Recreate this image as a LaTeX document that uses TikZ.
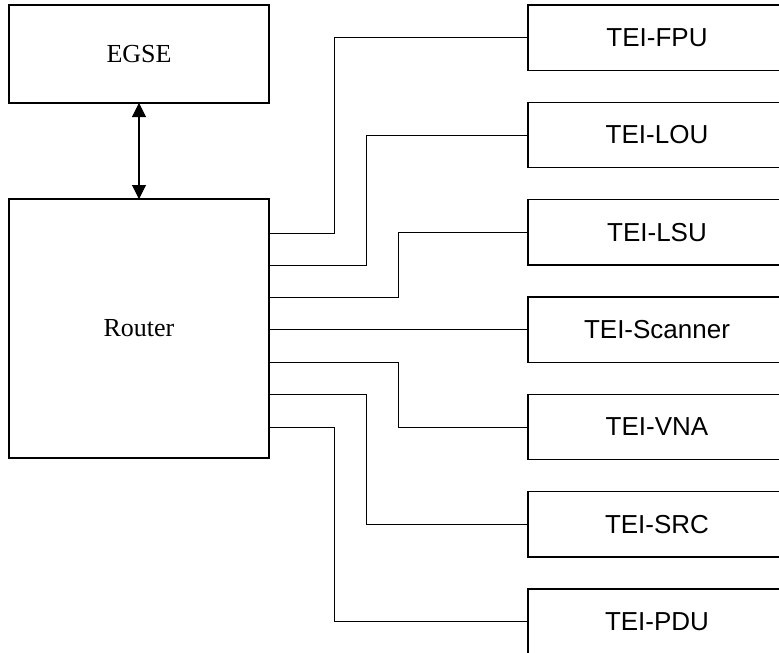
\documentclass[tikz,border=0pt]{standalone}
\usepackage{fontspec}
\setmainfont{Liberation Serif}
\setsansfont{Liberation Sans}
\usepackage{tikz}
\usetikzlibrary{arrows.meta, positioning}

\begin{document}
\begin{tikzpicture}[
    node distance=24pt,
    blk/.style={rectangle, draw=black, line width=0.8pt, outer sep=0pt,
                minimum width=195pt, align=center, font=\fontsize{19.5}{23}\selectfont},
    tei/.style={rectangle, draw=black, line width=0.8pt, outer sep=0pt,
                minimum width=193.5pt, minimum height=49pt, align=center,
                font=\sffamily\fontsize{19.5}{23}\selectfont},
    link/.style={black, line width=0.75pt},
    arr/.style={{Triangle[length=10.5pt, width=10.5pt]}-{Triangle[length=10.5pt, width=10.5pt]},
                black, line width=0.8pt}
  ]
  \useasboundingbox (0,0) rectangle (584.25pt,-489.75pt);

  \node[blk, minimum height=73.5pt, anchor=north west] (egse) at (6.75pt,-3.75pt) {EGSE};
  \node[blk, minimum height=194.25pt, below=72pt of egse] (router) {Router};
  \draw[arr] (egse) -- (router);

  % test units
  \node[tei, anchor=north west] (fpu) at (396pt,-3.75pt) {TEI-FPU};
  \node[tei, below=of fpu] (lou) {TEI-LOU};
  \node[tei, below=of lou] (lsu) {TEI-LSU};
  \node[tei, below=of lsu] (scan) {TEI-Scanner};
  \node[tei, below=of scan] (vna) {TEI-VNA};
  \node[tei, below=of vna] (src) {TEI-SRC};
  \node[tei, below=of src] (pdu) {TEI-PDU};

  % router links
  \draw[link] ([yshift=-25.5pt]router.north east) -- ++(48.75pt,0) |- (fpu.west);
  \draw[link] ([yshift=-49.75pt]router.north east) -- ++(72.75pt,0) |- (lou.west);
  \draw[link] ([yshift=-74pt]router.north east) -- ++(96.75pt,0) |- (lsu.west);
  \draw[link] (scan.west -| router.east) -- (scan.west);
  \draw[link] ([yshift=-122.5pt]router.north east) -- ++(96.75pt,0) |- (vna.west);
  \draw[link] ([yshift=-146.75pt]router.north east) -- ++(72.75pt,0) |- (src.west);
  \draw[link] ([yshift=-171pt]router.north east) -- ++(48.75pt,0) |- (pdu.west);
\end{tikzpicture}
\end{document}
